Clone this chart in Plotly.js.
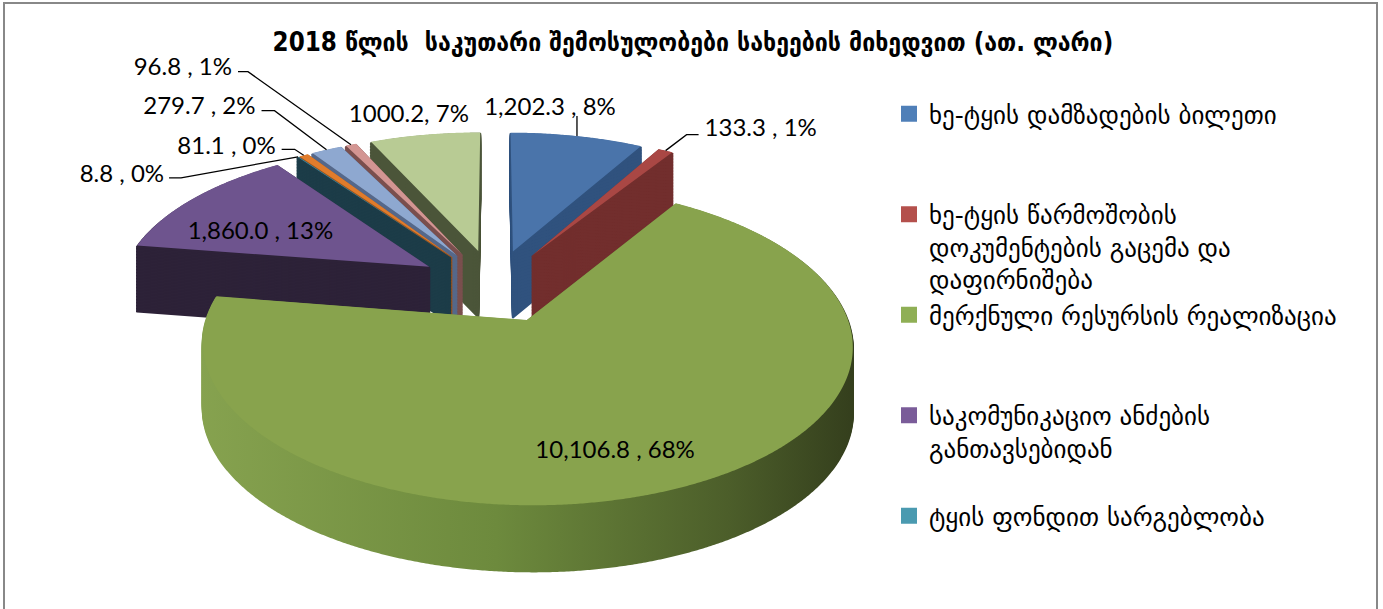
<!DOCTYPE html>
<html>
<head>
<meta charset="utf-8">
<script src="https://cdn.plot.ly/plotly-3.0.1.min.js"></script>
<style>
  html, body { margin: 0; padding: 0; background: #ffffff; }
  #chart { width: 1383px; height: 609px; }
</style>
</head>
<body>
<div id="chart"></div>
<script>
// ---------------- data ----------------
const sliceLabels = [
  "ხე-ტყის დამზადების ბილეთი",
  "ხე-ტყის წარმოშობის დოკუმენტების გაცემა და დაფირნიშება",
  "მერქნული რესურსის რეალიზაცია",
  "საკომუნიკაციო ანძების განთავსებიდან",
  "ტყის ფონდით სარგებლობა",
  "სხვა 1",
  "სხვა 2",
  "სხვა 3",
  "სხვა 4"
];
const sliceValues = [1202.3, 133.3, 10106.8, 1860.0, 8.8, 81.1, 279.7, 96.8, 1000.2];
const sliceText = ["1,202.3 , 8%", "133.3 , 1%", "10,106.8 , 68%", "1,860.0 , 13%",
                   "8.8 , 0%", "81.1 , 0%", "279.7 , 2%", "96.8 , 1%", "1000.2, 7%"];
const legendLabels = [
  "ხე-ტყის დამზადების ბილეთი<br> <br> ",
  "ხე-ტყის წარმოშობის<br>დოკუმენტების გაცემა და<br>დაფირნიშება",
  "მერქნული რესურსის რეალიზაცია<br> <br> ",
  "საკომუნიკაციო ანძების<br>განთავსებიდან<br> ",
  "ტყის ფონდით სარგებლობა"
];
const titleText = "2018 წლის  საკუთარი შემოსულობები სახეების მიხედვით (ათ. ლარი)";

// ---------------- styles ----------------
const topColors  = ["#4A74AA", "#A94744", "#88A34D", "#6E548E", "#3F93AC", "#E07C2C", "#8EA8D0", "#D39592", "#B8CB94"];
const sideColors = ["#30527E", "#722E2D", "#5F7836", "#2D2238", "#1C3C48", "#9E531B", "#55688A", "#7A4F4E", "#4B5539"];
const legendColors = ["#4F7FB8", "#B4504C", "#8FAF55", "#7A5C99", "#4A9AB0"];
const PULL = 0.25;
// label placement relative to each slice's outer-mid point (screen px)
const lblElbow  = [[0, -20], [21, -16], null, null, [-117, 21], [-9, -6], [-52, -39], [-103, -73], null];
const lblEnd    = [[0, -20], [33, -16], null, null, [-129, 21], [-22, -6], [-65, -39], [-113, -73], null];
const lblAlign  = ["center", "left", "center", "center", "right", "right", "right", "right", "center"];
const lblOffset = [[-27, -31], [39, -24], [-71, -38], [67, 31], [-134, 16], [-28, -11], [-71, -45], [-119, -79], [-16, -22]];

// perspective projection of the pie plane onto the screen
const PX = { tx: 494, ty: 285.5, a: 310, b: 146, p: 0.15 };
const DEPTH = 66;
const N_LAYERS = 44;

const W = 1383, H = 609;
const domain = { x: [0.15, 0.6], y: [0, 1] };

const traces = [];
for (let i = 0; i < N_LAYERS; i++) {
  traces.push({
    type: "pie", labels: sliceLabels, values: sliceValues, sort: false,
    direction: "clockwise", rotation: 0, pull: PULL, domain: domain,
    marker: { colors: sideColors, line: { color: sideColors, width: 2.2 } },
    textinfo: "none", hoverinfo: "skip", showlegend: false,
    meta: (N_LAYERS - i) * DEPTH / N_LAYERS
  });
}
const lblFont = { family: "Lato, 'Open Sans', sans-serif", size: 24, color: "#000" };
traces.push({
  type: "pie", labels: sliceLabels, values: sliceValues, sort: false,
  direction: "clockwise", rotation: 0, pull: PULL, domain: domain,
  marker: { colors: topColors, line: { width: 0 } },
  text: sliceText, textinfo: "text", textposition: "outside",
  textfont: lblFont, outsidetextfont: lblFont,
  showlegend: false, meta: 0
});
legendLabels.forEach((lab, i) => {
  traces.push({
    type: "scatter", x: [null], y: [null], mode: "markers", name: lab,
    legendgroup: "g" + i,
    marker: { symbol: "square", size: 16, color: legendColors[i] },
    hoverinfo: "skip"
  });
});

const layout = {
  width: W, height: H,
  margin: { l: 0, r: 0, t: 0, b: 0 },
  paper_bgcolor: "#ffffff", plot_bgcolor: "#ffffff",
  xaxis: { visible: false }, yaxis: { visible: false },
  title: {
    text: "<b>" + titleText + "</b>",
    font: { family: "'DejaVu Sans Condensed', 'DejaVu Sans', sans-serif", size: 25.7, color: "#000" },
    x: 0.501, xanchor: "center", y: 1 - 42 / H, yanchor: "middle"
  },
  showlegend: true,
  legend: {
    x: 889 / W, xanchor: "left", y: 1 - 91 / H, yanchor: "top",
    font: { family: "'DejaVu Sans', sans-serif", size: 25, color: "#000" },
    valign: "top", tracegroupgap: 0, bgcolor: "rgba(0,0,0,0)"
  },
  shapes: [{
    type: "rect", xref: "paper", yref: "paper",
    x0: 4 / W, x1: 1377 / W, y0: -0.05, y1: 1 - 3 / H,
    line: { color: "#888888", width: 2 }, fillcolor: "rgba(0,0,0,0)"
  }]
};

const gd = document.getElementById("chart");
Plotly.newPlot(gd, traces, layout, { staticPlot: true, displayModeBar: false }).then(() => {
  const svg = gd.querySelector(".main-svg");
  const svgRect = svg.getBoundingClientRect();
  const NS = "http://www.w3.org/2000/svg";

  // gradient for the big slice's side wall
  let defs = svg.querySelector("defs");
  if (!defs) { defs = document.createElementNS(NS, "defs"); svg.insertBefore(defs, svg.firstChild); }
  const grad = document.createElementNS(NS, "linearGradient");
  grad.setAttribute("id", "sideGreen");
  grad.setAttribute("gradientUnits", "userSpaceOnUse");
  grad.setAttribute("x1", "200"); grad.setAttribute("y1", "0");
  grad.setAttribute("x2", "860"); grad.setAttribute("y2", "0");
  [["0", "#86A24F"], ["0.45", "#6D8A3D"], ["0.8", "#4C5E2A"], ["1", "#333D1C"]].forEach(([o, c]) => {
    const s = document.createElementNS(NS, "stop");
    s.setAttribute("offset", o); s.setAttribute("stop-color", c); grad.appendChild(s);
  });
  defs.appendChild(grad);

  const groups = Array.from(gd.querySelectorAll(".pielayer g.trace"));
  const top = groups.find(g => g.__data__ && g.__data__[0].trace.meta === 0);
  const layers = groups.filter(g => g !== top)
    .sort((g1, g2) => g2.__data__[0].trace.meta - g1.__data__[0].trace.meta);
  const cd = top.__data__, cd0 = cd[0];
  const cx = cd0.cx, cy = cd0.cy, r = cd0.r;
  const warp = (x, y) => {
    const u = (x - cx) / r, w = -(y - cy) / r;
    const f = 1 / (1 + PX.p * w);
    return [PX.tx + PX.a * u * f, PX.ty - PX.b * w * f];
  };
  const fmt = q => q[0].toFixed(2) + "," + q[1].toFixed(2);

  const topSlices = Array.from(top.querySelectorAll("g.slice"));
  // warp every slice outline drawn by the library
  const warped = topSlices.map(sl => {
    const path = sl.querySelector("path.surface");
    const L = path.getTotalLength();
    const pts = [path.getPointAtLength(0)];
    const a0 = r, a1 = L - r;
    const n = Math.max(2, Math.ceil((a1 - a0) / 1.5));
    for (let j = 0; j <= n; j++) pts.push(path.getPointAtLength(a0 + (a1 - a0) * j / n));
    return "M" + pts.map(p => fmt(warp(p.x, p.y))).join("L") + "Z";
  });

  const layerSlices = layers.map(g => Array.from(g.querySelectorAll("g.slice")));
  layerSlices.forEach((arr, li) => {
    const off = layers[li].__data__[0].trace.meta;
    arr.forEach((sl, k) => {
      const path = sl.querySelector("path.surface");
      path.setAttribute("d", warped[k]);
      path.setAttribute("transform", `translate(0,${off})`);
      path.style.strokeLinejoin = "round";
      if (k === 2) { path.style.fill = "url(#sideGreen)"; path.style.stroke = "url(#sideGreen)"; }
    });
  });
  topSlices.forEach((sl, k) => {
    sl.querySelector("path.surface").setAttribute("d", warped[k]);
    sl.querySelectorAll("path.textline").forEach(t => t.remove());
  });

  // painter's order: slices further back first, each with its wall layers then its top face
  const host = document.createElementNS(NS, "g");
  const labelsG = document.createElementNS(NS, "g");
  top.parentNode.appendChild(host);
  top.parentNode.appendChild(labelsG);
  const order = topSlices.map((_, k) => k);
  order.sort((i, j) => cd[i].pxmid[1] - cd[j].pxmid[1]);

  // labels (measured before moving)
  topSlices.forEach((sl, k) => {
    const m = cd[k].pxmid;
    const anchor = warp(cx + m[0] * (1 + PULL), cy + m[1] * (1 + PULL));
    if (lblElbow[k]) {
      const e1 = [anchor[0] + lblElbow[k][0], anchor[1] + lblElbow[k][1]];
      const e2 = [anchor[0] + lblEnd[k][0], anchor[1] + lblEnd[k][1]];
      const ln = document.createElementNS(NS, "path");
      ln.setAttribute("d", "M" + fmt(anchor) + "L" + fmt(e1) + "L" + fmt(e2));
      ln.setAttribute("fill", "none");
      ln.setAttribute("stroke", "#000");
      ln.setAttribute("stroke-width", "1.3");
      labelsG.appendChild(ln);
    }
    const txt = sl.querySelector("g.slicetext");
    if (!txt) return;
    const b = txt.getBoundingClientRect();
    const bx = b.left - svgRect.left, by = b.top - svgRect.top;
    const tx = anchor[0] + lblOffset[k][0], ty = anchor[1] + lblOffset[k][1];
    let curX;
    if (lblAlign[k] === "left") curX = bx;
    else if (lblAlign[k] === "right") curX = bx + b.width;
    else curX = bx + b.width / 2;
    const curY = by + b.height / 2;
    txt.setAttribute("transform", `translate(${tx - curX},${ty - curY}) ` + (txt.getAttribute("transform") || ""));
    labelsG.appendChild(txt);
  });

  order.forEach(k => {
    layerSlices.forEach(arr => host.appendChild(arr[k]));
    host.appendChild(topSlices[k]);
  });
});
</script>
</body>
</html>
